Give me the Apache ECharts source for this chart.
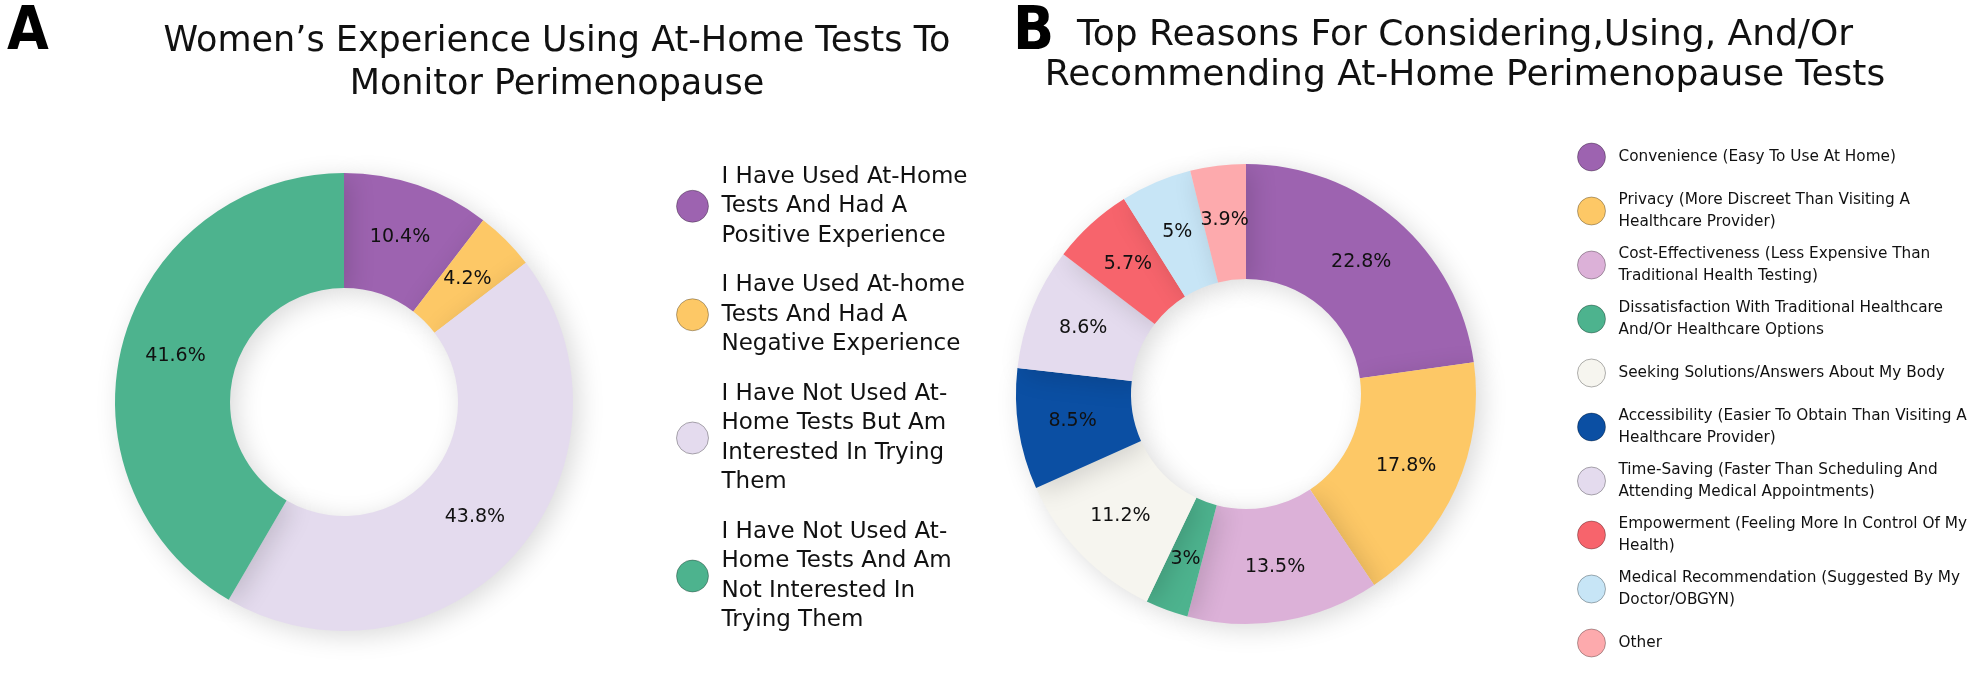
<!DOCTYPE html>
<html>
<head>
<meta charset="utf-8">
<script src="https://cdn.jsdelivr.net/npm/echarts@6/dist/echarts.min.js"></script>
<style>
  html, body { margin: 0; padding: 0; background: #fff; }
  #main { width: 1980px; height: 683px; }
</style>
</head>
<body>
<div id="main"></div>
<script>
var myChart = echarts.init(document.getElementById('main'));

// panel A
var experienceNames = [
  'I Have Used At-Home\nTests And Had A\nPositive Experience',
  'I Have Used At-home\nTests And Had A\nNegative Experience',
  'I Have Not Used At-\nHome Tests But Am\nInterested In Trying\nThem',
  'I Have Not Used At-\nHome Tests And Am\nNot Interested In\nTrying Them'
];
var experienceValues = [10.4, 4.2, 43.8, 41.6];

// panel B
var reasonNames = [
  'Convenience (Easy To Use At Home)',
  'Privacy (More Discreet Than Visiting A\nHealthcare Provider)',
  'Cost-Effectiveness (Less Expensive Than\nTraditional Health Testing)',
  'Dissatisfaction With Traditional Healthcare\nAnd/Or Healthcare Options',
  'Seeking Solutions/Answers About My Body',
  'Accessibility (Easier To Obtain Than Visiting A\nHealthcare Provider)',
  'Time-Saving (Faster Than Scheduling And\nAttending Medical Appointments)',
  'Empowerment (Feeling More In Control Of My\nHealth)',
  'Medical Recommendation (Suggested By My\nDoctor/OBGYN)',
  'Other'
];
var reasonValues = [22.8, 17.8, 13.5, 3, 11.2, 8.5, 8.6, 5.7, 5, 3.9];

var colorsA = ['#9d63b0', '#fdc866', '#e4dbee', '#4db38e'];
var colorsB = ['#9d63b0', '#fdc866', '#dcb1d8', '#4db38e', '#f6f5ef',
               '#0b4fa3', '#e4dbee', '#f7646c', '#c7e5f6', '#fdaaad'];

var font = 'DejaVu Sans';
var heavy = '"DejaVu Sans Condensed", "DejaVu Sans", sans-serif';

function pieData(names, values) {
  return names.map(function (n, i) { return { name: n, value: values[i] }; });
}

// single-line legend entries get padding so every entry is two lines tall
function legendData(names, lh, padLeft) {
  return names.map(function (n) {
    var single = n.indexOf('\n') < 0;
    return { name: n, textStyle: { padding: single ? [lh / 2, 0, lh / 2, padLeft] : [0, 0, 0, padLeft] } };
  });
}

var pieStyle = {
  type: 'pie',
  startAngle: 90,
  clockwise: true,
  avoidLabelOverlap: false,
  label: {
    show: true,
    position: 'inside',
    formatter: '{c}%',
    color: '#111',
    fontSize: 19,
    fontFamily: font
  },
  labelLine: { show: false },
  itemStyle: {
    shadowBlur: 26,
    shadowColor: 'rgba(0,0,0,0.15)',
    shadowOffsetX: 6,
    shadowOffsetY: 5
  },
  emphasis: { scale: false }
};

var option = {
  backgroundColor: '#fff',
  animation: false,
  title: [
    {
      text: 'A', left: 2, top: -2,
      textStyle: { fontSize: 60, fontWeight: 'bold', fontFamily: heavy, color: '#000' }
    },
    {
      text: 'Women\u2019s Experience Using At-Home Tests To\nMonitor Perimenopause',
      left: 552, top: 15, textAlign: 'center',
      textStyle: { fontSize: 35, lineHeight: 43, fontWeight: 'normal', fontFamily: font, color: '#111' }
    },
    {
      text: 'B', left: 1008, top: -2,
      textStyle: { fontSize: 60, fontWeight: 'bold', fontFamily: heavy, color: '#000' }
    },
    {
      text: 'Top Reasons For Considering,Using, And/Or\nRecommending At-Home Perimenopause Tests',
      left: 1460, top: 11, textAlign: 'center',
      textStyle: { fontSize: 36, lineHeight: 40, fontWeight: 'normal', fontFamily: font, color: '#111' }
    }
  ],
  legend: [
    {
      orient: 'vertical',
      left: 671, top: 157,
      icon: 'circle',
      itemWidth: 32, itemHeight: 32,
      itemGap: 20,
      selectedMode: false,
      data: legendData(experienceNames, 0, 8),
      itemStyle: { borderWidth: 1, borderColor: 'rgba(0,0,0,0.3)' },
      textStyle: { fontSize: 23, lineHeight: 29.5, fontFamily: font, color: '#111' }
    },
    {
      orient: 'vertical',
      left: 1572, top: 130,
      icon: 'circle',
      itemWidth: 28, itemHeight: 28,
      itemGap: 10,
      selectedMode: false,
      data: legendData(reasonNames, 22, 8),
      itemStyle: { borderWidth: 1, borderColor: 'rgba(0,0,0,0.3)' },
      textStyle: { fontSize: 15.3, lineHeight: 22, fontFamily: font, color: '#111' }
    }
  ],
  series: [
    Object.assign({}, pieStyle, {
      name: 'experience',
      center: [344, 402],
      radius: [114, 229],
      color: colorsA,
      data: pieData(experienceNames, experienceValues)
    }),
    Object.assign({}, pieStyle, {
      name: 'reasons',
      center: [1246, 394],
      radius: [115, 230],
      color: colorsB,
      data: pieData(reasonNames, reasonValues)
    })
  ]
};
myChart.setOption(option);
</script>
</body>
</html>
